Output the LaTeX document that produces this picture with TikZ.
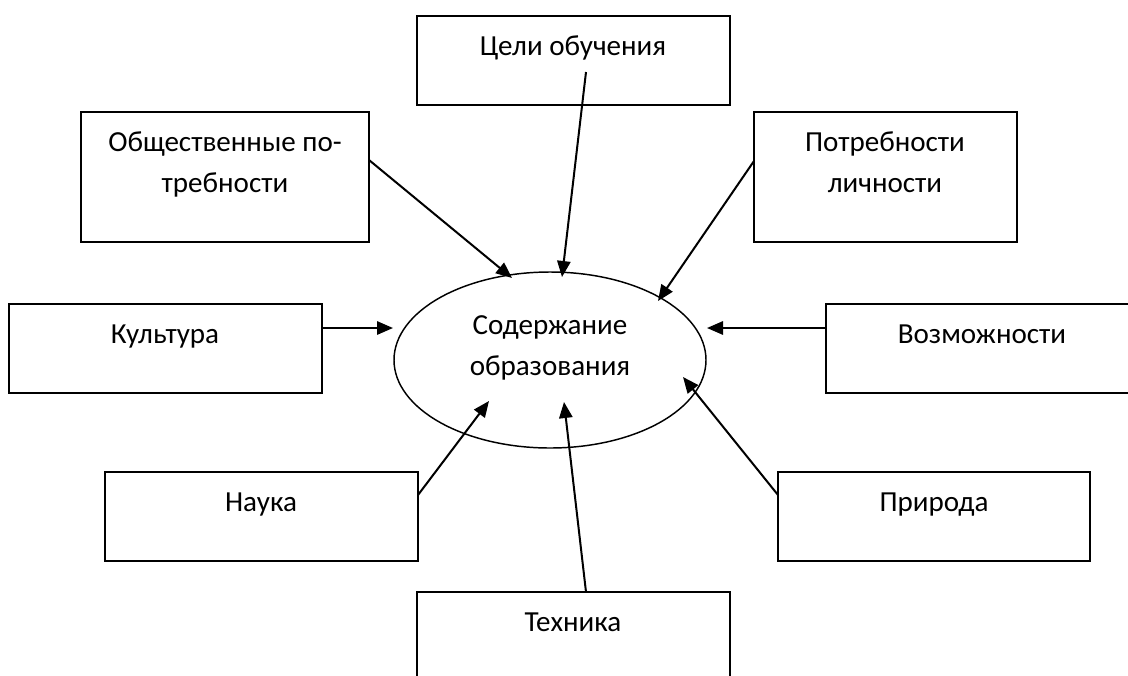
\documentclass[tikz,border=0pt]{standalone}
\usepackage{fontspec}
\setmainfont{Carlito}
\usetikzlibrary{arrows.meta}

\begin{document}
\begin{tikzpicture}[x=0.75pt, y=-0.75pt,
    box/.style={line width=1.4pt},
    lbl/.style={anchor=base, inner sep=0pt, align=center, font=\fontsize{21.8}{30.75}\selectfont},
    arr/.style={line width=1.5pt, -{Triangle[length=12pt, width=10pt]}}]
    \useasboundingbox (0,0) rectangle (1128,675);

    % Boxes
    \draw[box] (417,16) rectangle (730,105);
    \draw[box] (81,112) rectangle (369,242);
    \draw[box] (754,112) rectangle (1017,242);
    \draw[box] (9,304) rectangle (322,393);
    \draw[box] (826,304) rectangle (1139,393);
    \draw[box] (105,472) rectangle (418,561);
    \draw[box] (778,472) rectangle (1090,561);
    \draw[box] (417,592) rectangle (730,681);

    % Labels
    \node[lbl] (goals) at (573,55) {Цели обучения};
    \node[lbl] (social) at (225,192) {Общественные по-\\требности};
    \node[lbl] (personal) at (885,192) {Потребности\\личности};
    \node[lbl] (culture) at (165,343) {Культура};
    \node[lbl] (abilities) at (982,343) {Возможности};
    \node[lbl] (science) at (261,511) {Наука};
    \node[lbl] (nature) at (934,511) {Природа};
    \node[lbl] (technics) at (573,631) {Техника};

    % Centre
    \draw[line width=1.1pt] (550,360) ellipse (156 and 88);
    \node[lbl] (content) at (550,375) {Содержание\\образования};

    % Arrow ends
    \coordinate (s1) at (369,160);  \coordinate (t1) at (512,278);
    \coordinate (s2) at (586,72);   \coordinate (t2) at (562,277);
    \coordinate (s3) at (754,161);  \coordinate (t3) at (658,301);
    \coordinate (s4) at (322,328);  \coordinate (t4) at (393,328);
    \coordinate (s5) at (826,328);  \coordinate (t5) at (707,328);
    \coordinate (s6) at (418,495);  \coordinate (t6) at (489,401);
    \coordinate (s7) at (586,592);  \coordinate (t7) at (564,402);
    \coordinate (s8) at (778,495);  \coordinate (t8) at (683,377);

    \foreach \i in {1,...,8}
        \draw[arr] (s\i) -- (t\i);
\end{tikzpicture}
\end{document}
